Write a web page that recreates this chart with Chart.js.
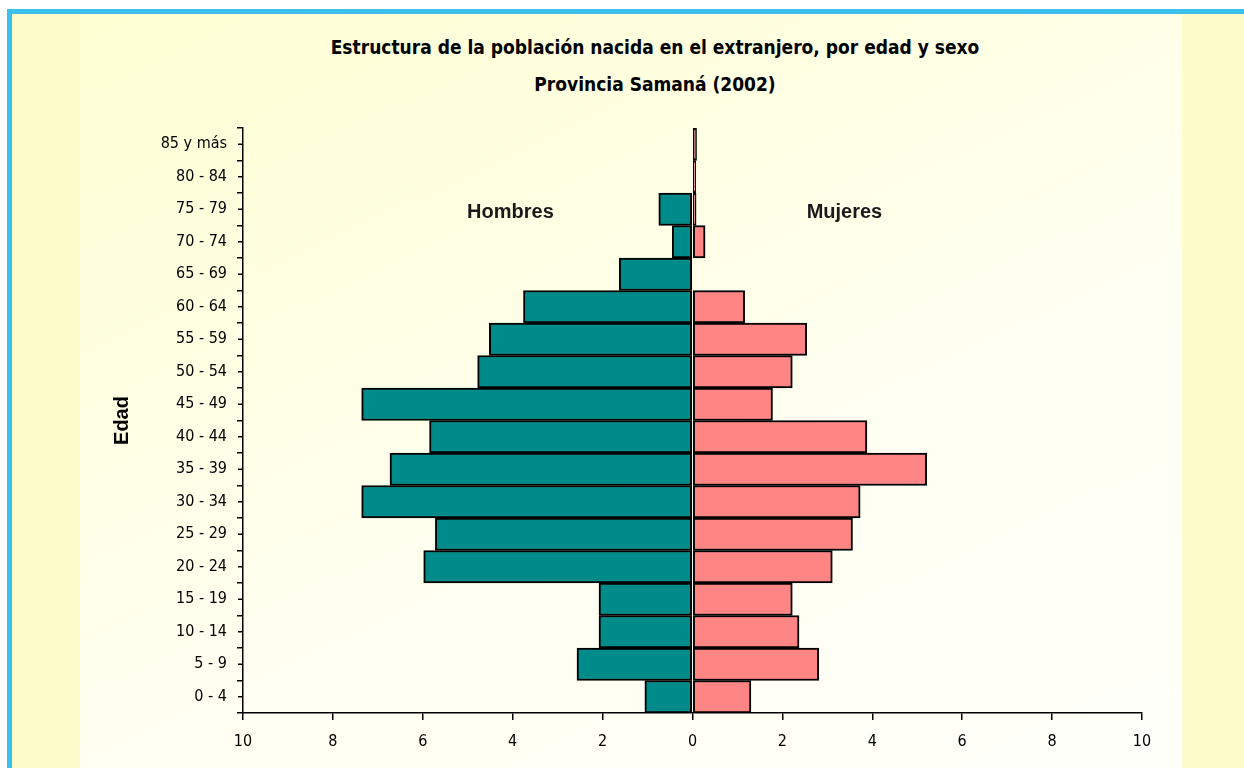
<!DOCTYPE html>
<html lang="es">
<head>
    <meta charset="UTF-8">
    <title>Estructura de la población nacida en el extranjero - Samaná</title>
    <script src="https://cdn.jsdelivr.net/npm/chart.js"></script>
    <style>
        html, body {
            margin: 0;
            padding: 0;
            width: 1244px;
            height: 768px;
            overflow: hidden;
            background: #ffffff;
        }
        .frame {
            position: absolute;
            left: 7px;
            top: 9px;
            width: 1237px;
            height: 759px;
            border-top: 5px solid #3bbfeb;
            border-left: 5px solid #3bbfeb;
            background: #fffccc;
            box-sizing: border-box;
        }
        .panel {
            position: absolute;
            left: 80px;
            top: 14px;
            width: 1102px;
            height: 754px;
            background: linear-gradient(155deg, #ffffd3 0%, #fffff2 60%, #fffffa 100%);
        }
        .title {
            position: absolute;
            left: 0;
            width: 1310px;
            text-align: center;
            font-family: 'Liberation Sans Narrow', 'DejaVu Sans Condensed', sans-serif;
            font-weight: bold;
            font-size: 19px;
            color: #000;
        }
        #chartWrap {
            position: absolute;
            left: 0;
            top: 0;
            width: 1244px;
            height: 768px;
        }
    </style>
</head>
<body>
<div class="frame"></div>
<div class="panel"></div>
<div class="title" style="top:36px;">Estructura de la población nacida en el extranjero, por edad y sexo</div>
<div class="title" style="top:73px;">Provincia Samaná (2002)</div>
<div id="chartWrap"><canvas id="pyramid" width="1244" height="768"></canvas></div>
<script>
// grupos de edad, de arriba hacia abajo
const edades = ['85 y más', '80 - 84', '75 - 79', '70 - 74', '65 - 69', '60 - 64', '55 - 59', '50 - 54',
    '45 - 49', '40 - 44', '35 - 39', '30 - 34', '25 - 29', '20 - 24', '15 - 19', '10 - 14', '5 - 9', '0 - 4'];
// porcentajes (hombres a la izquierda, en negativo)
const hombres = [0, 0, -0.75, -0.45, -1.63, -3.76, -4.52, -4.78, -7.36, -5.85, -6.73, -7.36, -5.72, -5.98, -2.08, -2.08, -2.57, -1.06];
const mujeres = [0.09, 0.07, 0.08, 0.28, 0, 1.16, 2.54, 2.22, 1.78, 3.88, 5.21, 3.73, 3.56, 3.11, 2.22, 2.37, 2.81, 1.3];
const xTicks = [-10, -8, -6, -4, -2, 0, 2, 4, 6, 8, 10];

const narrow = "'Liberation Sans Narrow', 'DejaVu Sans Condensed', sans-serif";

// etiquetas Hombres / Mujeres y marcas cortas en el centro de cada grupo
const extras = {
    id: 'extras',
    afterDraw(chart) {
        const { ctx, scales } = chart;
        const x = scales.x, y = scales.y;
        ctx.save();
        ctx.strokeStyle = '#000';
        ctx.lineWidth = 1.5;
        edades.forEach((e, i) => {
            const py = y.getPixelForValue(i);
            ctx.beginPath();
            ctx.moveTo(x.left - 5, py);
            ctx.lineTo(x.left, py);
            ctx.stroke();
        });
        ctx.fillStyle = '#1a1a1a';
        ctx.font = "bold 20px 'Liberation Sans', Arial, sans-serif";
        ctx.textAlign = 'center';
        ctx.textBaseline = 'middle';
        ctx.fillText('Hombres', x.getPixelForValue(-4.05), y.getPixelForValue(2) + 3);
        ctx.fillText('Mujeres', x.getPixelForValue(3.38), y.getPixelForValue(2) + 3);
        ctx.restore();
    }
};

new Chart(document.getElementById('pyramid'), {
    type: 'bar',
    data: {
        labels: edades,
        datasets: [
            { label: 'Hombres', data: hombres, backgroundColor: '#008b8b', borderColor: '#000', borderWidth: 2, borderSkipped: false },
            { label: 'Mujeres', data: mujeres, backgroundColor: '#ff8585', borderColor: '#000', borderWidth: 2, borderSkipped: false }
        ]
    },
    options: {
        indexAxis: 'y',
        responsive: false,
        animation: false,
        layout: { padding: { left: 80, right: 102, top: 128, bottom: 0 } },
        datasets: { bar: { categoryPercentage: 1, barPercentage: 1 } },
        plugins: {
            legend: { display: false },
            tooltip: { enabled: false }
        },
        scales: {
            x: {
                stacked: true,
                min: -10,
                max: 10,
                afterBuildTicks: (s) => { s.ticks = xTicks.map(v => ({ value: v })); },
                afterFit: (s) => { s.height = 55; },
                grid: { drawOnChartArea: false, color: '#000', tickLength: 7, lineWidth: 1.5 },
                border: { color: '#000', width: 1.5 },
                ticks: {
                    callback: (v) => Math.abs(v),
                    color: '#000',
                    padding: 12,
                    maxRotation: 0,
                    font: { family: narrow, size: 16 }
                }
            },
            y: {
                stacked: true,
                afterFit: (s) => { s.width = 163; },
                grid: { drawOnChartArea: false, offset: true, color: '#000', tickLength: 6, lineWidth: 1.5 },
                border: { color: '#000', width: 1.5 },
                ticks: {
                    color: '#000',
                    padding: 10,
                    font: { family: narrow, size: 16 }
                },
                title: {
                    display: true,
                    text: 'Edad',
                    color: '#000',
                    padding: { top: 30 },
                    font: { family: "'Liberation Sans', Arial, sans-serif", size: 20, weight: 'bold' }
                }
            }
        }
    },
    plugins: [extras]
});
</script>
</body>
</html>
